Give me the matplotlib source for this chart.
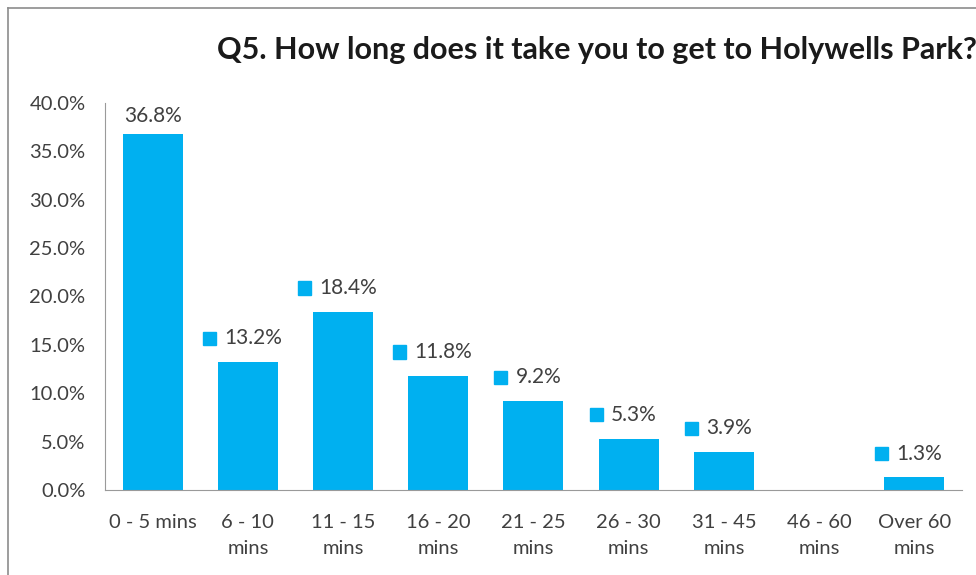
import matplotlib.pyplot as plt
from matplotlib.lines import Line2D
from matplotlib.patches import Rectangle
from matplotlib.ticker import FuncFormatter
from matplotlib.offsetbox import AnnotationBbox, DrawingArea, HPacker, TextArea

plt.rcParams['font.family'] = ['Lato', 'DejaVu Sans']

# Q5 survey results
categories = ['0 - 5 mins', '6 - 10\nmins', '11 - 15\nmins', '16 - 20\nmins',
              '21 - 25\nmins', '26 - 30\nmins', '31 - 45\nmins', '46 - 60\nmins',
              'Over 60\nmins']
percent = [36.8, 13.2, 18.4, 11.8, 9.2, 5.3, 3.9, 0.0, 1.3]
show_key = [False, True, True, True, True, True, True, False, True]
show_label = [True, True, True, True, True, True, True, False, True]

blue = '#00B0F0'
grey = '#404040'

fig = plt.figure(figsize=(9.76, 5.75), dpi=100)
ax = fig.add_axes([0.1076, 0.1478, 0.878, 0.6731])

x = range(len(categories))
ax.bar(x, percent, width=0.63, color=blue)

ax.set_xlim(-0.5, len(categories) - 0.5)
ax.set_ylim(0, 40)
ax.set_yticks(range(0, 41, 5))
ax.yaxis.set_major_formatter(FuncFormatter(lambda v, p: f'{v:.1f}%'))
ax.set_xticks(list(x))
ax.set_xticklabels(categories, fontsize=14.5, color=grey, linespacing=1.7)
ax.tick_params(axis='y', labelsize=14.5, labelcolor=grey, length=0, pad=14)
ax.tick_params(axis='x', length=0, pad=17)

for s in ['top', 'right']:
    ax.spines[s].set_visible(False)
for s in ['left', 'bottom']:
    ax.spines[s].set_color('#9a9a9a')

for i, v in enumerate(percent):
    if not show_label[i]:
        continue
    txt = TextArea(f'{v:.1f}%', textprops=dict(fontsize=15, color=grey))
    if show_key[i]:
        key = DrawingArea(9.5, 9.5, 0, 0)
        key.add_artist(Rectangle((0, 0), 9.5, 9.5, color=blue))
        box = HPacker(children=[key, txt], align='center', pad=0, sep=6)
        xy_off = (-4, 10)
    else:
        box = txt
        xy_off = (0, 6)
    ab = AnnotationBbox(box, (i, v), xybox=xy_off, xycoords='data',
                        boxcoords='offset points', box_alignment=(0.5, 0),
                        frameon=False, pad=0)
    ax.add_artist(ab)

fig.text(0.612, 0.913, 'Q5. How long does it take you to get to Holywells Park?',
         ha='center', va='center', fontsize=22, fontweight='bold', color='#1a1a1a')

# chart area border
fig.add_artist(Line2D([8 / 976, 8 / 976], [0, 1 - 8 / 575], color='#8c8c8c', lw=1.2))
fig.add_artist(Line2D([8 / 976, 1], [1 - 8 / 575, 1 - 8 / 575], color='#8c8c8c', lw=1.2))

fig.savefig('out.png', dpi=100)
